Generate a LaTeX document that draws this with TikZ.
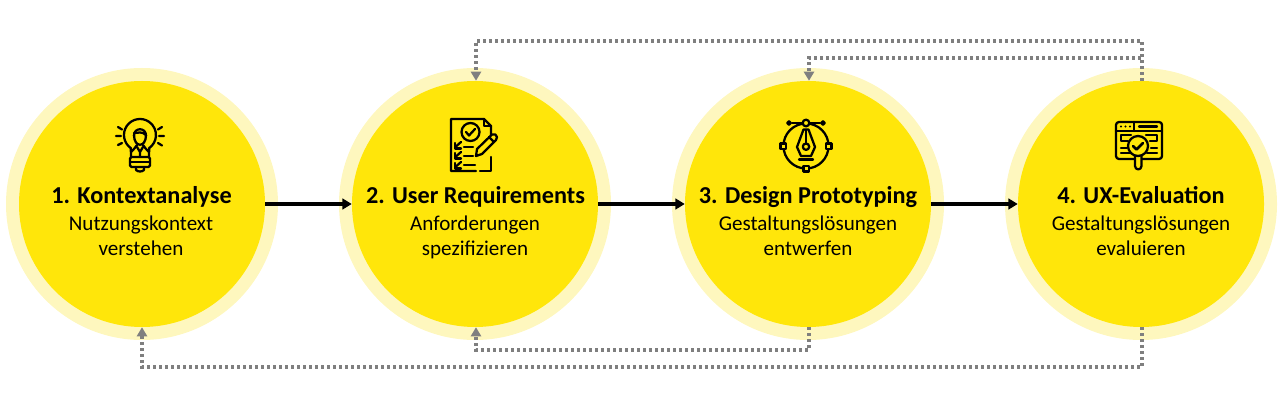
\documentclass[tikz,border=0pt]{standalone}
\usepackage{fontspec}
\setmainfont{Carlito}
\usetikzlibrary{arrows.meta,calc}
\definecolor{ringY}{HTML}{FEF7BE}
\definecolor{mainY}{HTML}{FFE60A}
\definecolor{dotG}{HTML}{7F7F7F}
\newcommand\twolines[2]{#1\strut\\#2\strut}
\tikzset{
  outer/.style={circle,fill=ringY,minimum size=204pt,inner sep=0pt},
  inner/.style={circle,fill=mainY,minimum size=184.5pt,inner sep=0pt},
  ttl/.style={font=\fontsize{18.2pt}{20pt}\selectfont\bfseries,text=black,inner sep=0pt,anchor=base},
  sub/.style={font=\fontsize{15.8pt}{19pt}\selectfont,text=black,align=center,inner sep=0pt,anchor=center},
  flowline/.style={line width=2.5pt,black,-{Triangle[length=7pt,width=8pt]}},
  backline/.style={line width=2.45pt,dotG,dash pattern=on 2.2pt off 2.3pt,-{Triangle[length=6.75pt,width=7.5pt]}},
  ic/.style={line width=1.7pt,black,line cap=round,line join=round}
}
\begin{document}
\begin{tikzpicture}[x=0.75pt,y=-0.75pt]
\useasboundingbox (0,0) rectangle (1280,409);
\foreach \n/\x in {1/142,2/475,3/808,4/1141}{
  \node[outer] (o\n) at (\x,204) {};
  \node[inner] (c\n) at (\x,204) {};
}
% connectors
\draw[flowline] (c1.east) -- (c2.west);
\draw[flowline] (c2.east) -- (c3.west);
\draw[flowline] (c3.east) -- (c4.west);
\coordinate (t1) at (1142,41);
\coordinate (t2) at (1142,58);
\coordinate (b1) at (809,350);
\coordinate (b2) at (1142,367);
\draw[backline] ([xshift=0.75pt]c4.north) -- (t1) -| ([xshift=0.75pt]c2.north);
\draw[backline] ([xshift=0.75pt]c4.north) -- (t2) -| ([xshift=0.75pt]c3.north);
\draw[backline] ([xshift=0.75pt]c3.south) -- (b1) -| ([xshift=0.75pt]c2.south);
\draw[backline] ([xshift=0.75pt]c4.south) -- (b2) -| (c1.south);
% text
\node[ttl] (h1) at (141.5,204) {1. Kontextanalyse};
\node[sub] (s1) at (141,238) {\twolines{Nutzungskontext}{verstehen}};
\node[ttl] (h2) at (475.5,204) {2. User Requirements};
\node[sub] (s2) at (475,238) {\twolines{Anforderungen}{spezifizieren}};
\node[ttl] (h3) at (808,204) {3. Design Prototyping};
\node[sub] (s3) at (808,238) {\twolines{Gestaltungslösungen}{entwerfen}};
\node[ttl] (h4) at (1141,204) {4. UX-Evaluation};
\node[sub] (s4) at (1141,238) {\twolines{Gestaltungslösungen}{evaluieren}};
% icon 1: bulb
\begin{scope}[ic]
\draw (130.8,148.1) arc[start angle=235,end angle=-55,radius=12pt];
\draw (130.8,148.1) -- (131,157) (149.2,148.1) -- (149,157);
\draw (134,136) .. controls (133.5,127) and (146.5,127) .. (146,136);
\draw (134,135) .. controls (134,148) and (146,148) .. (146,135);
\draw (134,133) .. controls (138,133) and (142,131) .. (146,135);
\draw (131,152) .. controls (133,149) and (136,148) .. (137,145) (149,152) .. controls (147,149) and (144,148) .. (143,145);
\draw (137,147) -- (140,152) -- (143,147) (140,152) -- (140,157);
\draw[rounded corners=1.1pt] (130,157) rectangle (150,167);
\draw (130,162) -- (150,162);
\draw (136,167) -- (136,170) .. controls (138,172) and (142,172) .. (144,170) -- (144,167);
\draw (118,127) -- (122,129.5) (116,136) -- (121,136) (118,145) -- (122,143);
\draw (162,127) -- (158,129.5) (164,136) -- (159,136) (162,145.5) -- (158,143);
\end{scope}
% icon 2: checklist
\begin{scope}[ic]
\draw (476,171) -- (451,171) -- (451,119) -- (484,119) -- (491,126) -- (491,137);
\draw (491,157) -- (491,171) -- (480,171);
\draw (484,119) -- (484,126) -- (491,126);
\draw (470.5,132) circle[radius=6.75pt];
\draw (466,132) -- (469,135.5) -- (475,129);
\foreach \y in {145,155,165}{
  \draw (455,\y-2) -- (455,\y+3.5) -- (461,\y+3.5);
  \draw (456.5,\y+1) -- (461,\y-3);
}
\draw (464,147) -- (473,147) (464,156) -- (473,156) (464,165) -- (475,165);
\draw[fill=mainY] (477,149) -- (492,134.5) .. controls (494,133) and (497,135) .. (497,137) .. controls (497,138) and (497,139) .. (496,140) -- (482,154) -- (476,156) -- cycle;
\draw (489,137) -- (494,142);
\end{scope}
% icon 3: pen tool
\begin{scope}[ic]
\draw (806,146) circle[radius=16.9pt];
\draw (792,123) -- (803,123) (809,123) -- (820,123);
\draw[fill=mainY] (806,123) circle[radius=2.5pt];
\draw[fill=mainY] (789,123) circle[radius=1.35pt];
\draw[fill=mainY] (823,123) circle[radius=1.35pt];
\draw[fill=mainY] (780.5,143.5) rectangle (786,149);
\draw[fill=mainY] (826,143.5) rectangle (831.5,149);
\draw[fill=mainY] (803.5,166) rectangle (809,171.5);
\draw (803.5,129.5) -- (808.5,129.5) -- (815,147) -- (811,156) -- (801,156) -- (797,147) -- cycle;
\draw (806,130) -- (806,143);
\draw (806,146.7) circle[radius=2.4pt];
\draw (799,159.5) -- (813,159.5);
\end{scope}
% icon 4: window + magnifier
\begin{scope}[ic]
\draw[rounded corners=2.2pt] (1116,122) rectangle (1162,159);
\draw (1116,131) -- (1162,131) (1134,122) -- (1134,131);
\draw (1139,126.5) -- (1157,126.5);
\foreach \x in {1121,1125.5,1130}{\fill (\x,126.5) circle[radius=0.9pt];}
\draw (1131,135) -- (1121,135) -- (1121,141) -- (1128,141);
\draw (1121,148) -- (1127,148) (1121,153) -- (1130,153);
\draw (1146,135) -- (1157,135) -- (1157,141) -- (1150,141);
\draw (1151,148) -- (1157,148) (1147,153) -- (1157,153);
\draw[fill=mainY] (1135,156) -- (1135,166) .. controls (1135,170.5) and (1141.5,170.5) .. (1141.5,166) -- (1141.5,156);
\draw[fill=mainY] (1138,146) circle[radius=7.5pt];
\draw[line width=1.9pt] (1133,146) -- (1136.5,149.5) -- (1143,143);
\end{scope}
\end{tikzpicture}
\end{document}
